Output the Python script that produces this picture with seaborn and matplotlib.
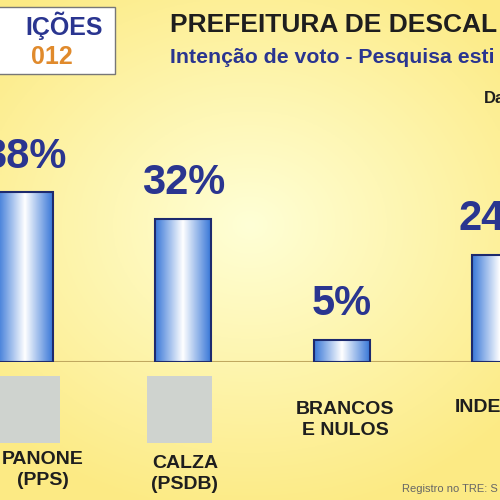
import numpy as np
import pandas as pd
import matplotlib
matplotlib.use("Agg")
import matplotlib.pyplot as plt
import seaborn as sns

# dados da pesquisa
candidatos = ["PANONE\n(PPS)", "CALZA\n(PSDB)", "BRANCOS\nE NULOS", "INDECISOS"]
percentuais = [38, 32, 5, 24]
rotulos = ["38%", "32%", "5%", "24%"]

sns.set_style("white")
plt.rcParams['font.family'] = ['Liberation Sans', 'DejaVu Sans']

fig = plt.figure(figsize=(5, 5), dpi=100)

# fundo amarelo com gradiente radial
bg = fig.add_axes([0, 0, 1, 1])
yy, xx = np.mgrid[0:1:200j, 0:1:200j]
r = np.sqrt((xx - 0.5) ** 2 + ((yy - 0.55) * 1.2) ** 2)
c1 = np.array([1.0, 1.0, 0.84])
c2 = np.array([0.99, 0.92, 0.52])
t = np.clip(r / 0.7, 0, 1)[..., None]
bg.imshow(c1 * (1 - t) + c2 * t, extent=[0, 1, 0, 1], aspect='auto', origin='lower')
bg.set_axis_off()

# caixa do logo
bg.add_patch(plt.Rectangle((-0.01, 0.852), 0.24, 0.135, facecolor='white', edgecolor='#777777', lw=1))
bg.text(0.205, 0.948, "IÇÕES", ha='right', va='center', fontsize=18, weight='bold', color='#2a3590')
bg.text(0.145, 0.885, "012", ha='right', va='center', fontsize=18, weight='bold', color='#e08a2c')
bg.text(0.34, 0.951, "PREFEITURA DE DESCAL", ha='left', va='center', fontsize=19, weight='bold', color='#1e1e1e')
bg.text(0.34, 0.885, "Intenção de voto - Pesquisa esti", ha='left', va='center', fontsize=15.3, weight='bold', color='#2a3590')
bg.text(0.968, 0.803, "Da", ha='left', va='center', fontsize=12, weight='bold', color='#1e1e1e')

# fotos (substitutos)
for x0 in [-0.01, 0.293]:
    bg.add_patch(plt.Rectangle((x0, 0.115), 0.13, 0.134, facecolor='#cfd3cf', edgecolor='none'))

bg.text(0.995, 0.012, "Registro no TRE: S", ha='right', va='bottom', fontsize=8, color='#666666')
bg.set_xlim(0, 1)
bg.set_ylim(0, 1)

# gráfico de barras
ax = fig.add_axes([0, 0.276, 1, 0.724])
ax.patch.set_alpha(0)
df = pd.DataFrame({"candidato": candidatos, "pct": percentuais})
sns.barplot(data=df, x="candidato", y="pct", ax=ax, width=0.353, color='#4a86d8',
            edgecolor='#1d2a6e', linewidth=1.5)

grad = np.linspace(-1, 1, 100)
cmap = matplotlib.colors.LinearSegmentedColormap.from_list("b", ['#3a78d8', '#ffffff', '#3a78d8'])
for bar in ax.patches:
    x = bar.get_x(); w = bar.get_width(); h = bar.get_height()
    im = ax.imshow(grad[None, :], cmap=cmap, aspect='auto',
                   extent=[x, x + w, 0, h], vmin=-1, vmax=1, zorder=2)
    im.set_clip_path(bar)
    bar.set_zorder(3)
    bar.set_facecolor('none')
ax.set_xlim(-0.1575, 3.0)
ax.set_ylim(0, 81)

for i, (v, lab) in enumerate(zip(percentuais, rotulos)):
    ax.text(i, v + 3.5, lab, ha='center', va='bottom', fontsize=30, weight='bold', color='#2a3590')

ax.axhline(0, color='#c0a860', lw=1.5)
ax.set_axis_off()

# nomes
bg.text(0.085, 0.06, "PANONE\n(PPS)", ha='center', va='center', fontsize=14, weight='bold', color='#1e1e1e', linespacing=1.3)
bg.text(0.37, 0.052, "CALZA\n(PSDB)", ha='center', va='center', fontsize=14, weight='bold', color='#1e1e1e', linespacing=1.3)
bg.text(0.69, 0.16, "BRANCOS\nE NULOS", ha='center', va='center', fontsize=14, weight='bold', color='#1e1e1e', linespacing=1.3)
bg.text(0.91, 0.186, "INDECISOS", ha='left', va='center', fontsize=14, weight='bold', color='#1e1e1e')

fig.savefig("out.png", dpi=100)
